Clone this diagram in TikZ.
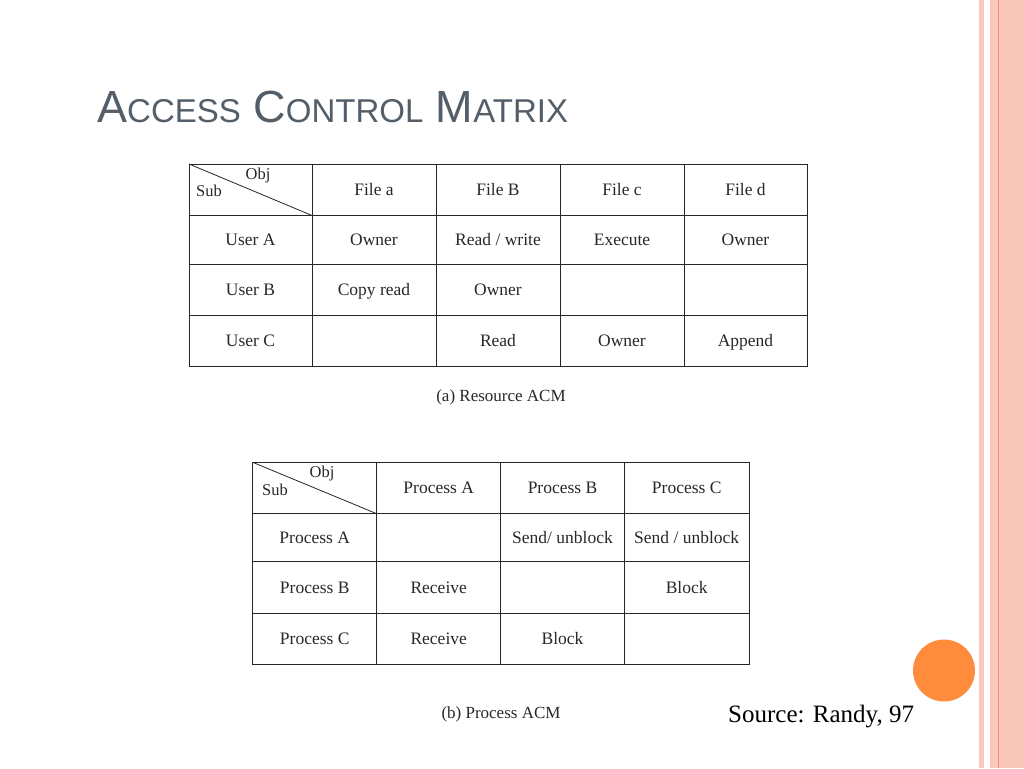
\documentclass[tikz,border=0pt]{standalone}
\usepackage{fontspec}
\setmainfont{Liberation Serif}
\newfontfamily\titlefont{Liberation Sans}
\definecolor{titlegray}{RGB}{84,94,105}
\definecolor{stripepink}{RGB}{250,200,186}
\definecolor{stripeline}{RGB}{232,150,120}
\definecolor{dotorange}{RGB}{255,140,60}
\definecolor{cellgray}{RGB}{40,40,40}
\newcommand{\smc}[1]{{\fontsize{33}{33}\selectfont #1}}
\begin{document}
\begin{tikzpicture}[x=1pt,y=-1pt,
  cell/.style={font=\fontsize{17.5}{19}\selectfont, text=cellgray, inner sep=0pt, text height=12pt, text depth=3.5pt, yshift=-1.5pt},
  cornerlbl/.style={font=\fontsize{16.5}{18}\selectfont, text=cellgray, inner sep=0pt, text height=11pt, text depth=3.5pt, yshift=-1.5pt},
  caption/.style={font=\fontsize{17}{19}\selectfont, text=cellgray, inner sep=0pt, text height=12pt, text depth=3.5pt, yshift=-1.5pt},
  grid/.style={draw=black!85, line width=1pt}]
\useasboundingbox (0,0) rectangle (1024,768);
\fill[white] (0,0) rectangle (1024,768);
% right border stripes
\fill[stripepink] (978.5,0) rectangle (984,768);
\fill[stripepink] (990,0) rectangle (1024,768);
\draw[stripeline, line width=1pt] (998.5,0) -- (998.5,768);
% orange dot
\fill[dotorange] (944,670.5) circle (31);
% title
\node[anchor=base west, inner sep=0pt, text=titlegray, font=\titlefont\fontsize{45}{45}\selectfont] (title) at (97,122)
 {A\smc{CCESS} C\smc{ONTROL} M\smc{ATRIX}};
% ---------- Table (a) ----------
\draw[grid] (189,164) rectangle (807,366.3);
\foreach \x in {312,436,560,684} \draw[grid] (\x,164) -- (\x,366.3);
\foreach \y in {215.5,264,315} \draw[grid] (189,\y) -- (807,\y);
\draw[black!85, line width=0.8pt] (189,164) -- (312,215.5);
\node[cornerlbl] (aobj) at (258,174) {Obj};
\node[cornerlbl] (asub) at (209,191) {Sub};
\node[cell] (afa) at (374,190) {File a};
\node[cell] (afb) at (498,190) {File B};
\node[cell] (afc) at (622,190) {File c};
\node[cell] (afd) at (745.5,190) {File d};
\node[cell] (aua) at (250.5,240) {User A};
\node[cell] (aub) at (250.5,289.5) {User B};
\node[cell] (auc) at (250.5,341) {User C};
\node[cell] (a11) at (374,240) {Owner};
\node[cell] (a12) at (498,240) {Read / write};
\node[cell] (a13) at (622,240) {Execute};
\node[cell] (a14) at (745.5,240) {Owner};
\node[cell] (a21) at (374,289.5) {Copy read};
\node[cell] (a22) at (498,289.5) {Owner};
\node[cell] (a32) at (498,341) {Read};
\node[cell] (a33) at (622,341) {Owner};
\node[cell] (a34) at (745.5,341) {Append};
\node[caption] (capa) at (501,395.5) {(a) Resource ACM};
% ---------- Table (b) ----------
\draw[grid] (252.7,462.3) rectangle (749,664.3);
\foreach \x in {376.7,500.7,624.3} \draw[grid] (\x,462.3) -- (\x,664.3);
\foreach \y in {513.7,561.7,613} \draw[grid] (252.7,\y) -- (749,\y);
\draw[black!85, line width=0.8pt] (252.7,462.3) -- (376.7,513.7);
\node[cornerlbl] (bobj) at (322,472) {Obj};
\node[cornerlbl] (bsub) at (275,490) {Sub};
\node[cell] (bpa) at (438.7,488) {Process A};
\node[cell] (bpb) at (562.5,488) {Process B};
\node[cell] (bpc) at (686.7,488) {Process C};
\node[cell] (bra) at (314.7,538) {Process A};
\node[cell] (brb) at (314.7,587.5) {Process B};
\node[cell] (brc) at (314.7,639) {Process C};
\node[cell] (b12) at (562.5,538) {Send/ unblock};
\node[cell] (b13) at (686.7,538) {Send / unblock};
\node[cell] (b21) at (438.7,587.5) {Receive};
\node[cell] (b23) at (686.7,587.5) {Block};
\node[cell] (b31) at (438.7,639) {Receive};
\node[cell] (b32) at (562.5,639) {Block};
\node[caption] (capb) at (501,712.5) {(b) Process ACM};
% source
\node[anchor=base west, inner sep=0pt, font=\fontsize{25}{27}\selectfont] (src) at (728,722.5) {Source: Randy, 97};
\end{tikzpicture}
\end{document}
